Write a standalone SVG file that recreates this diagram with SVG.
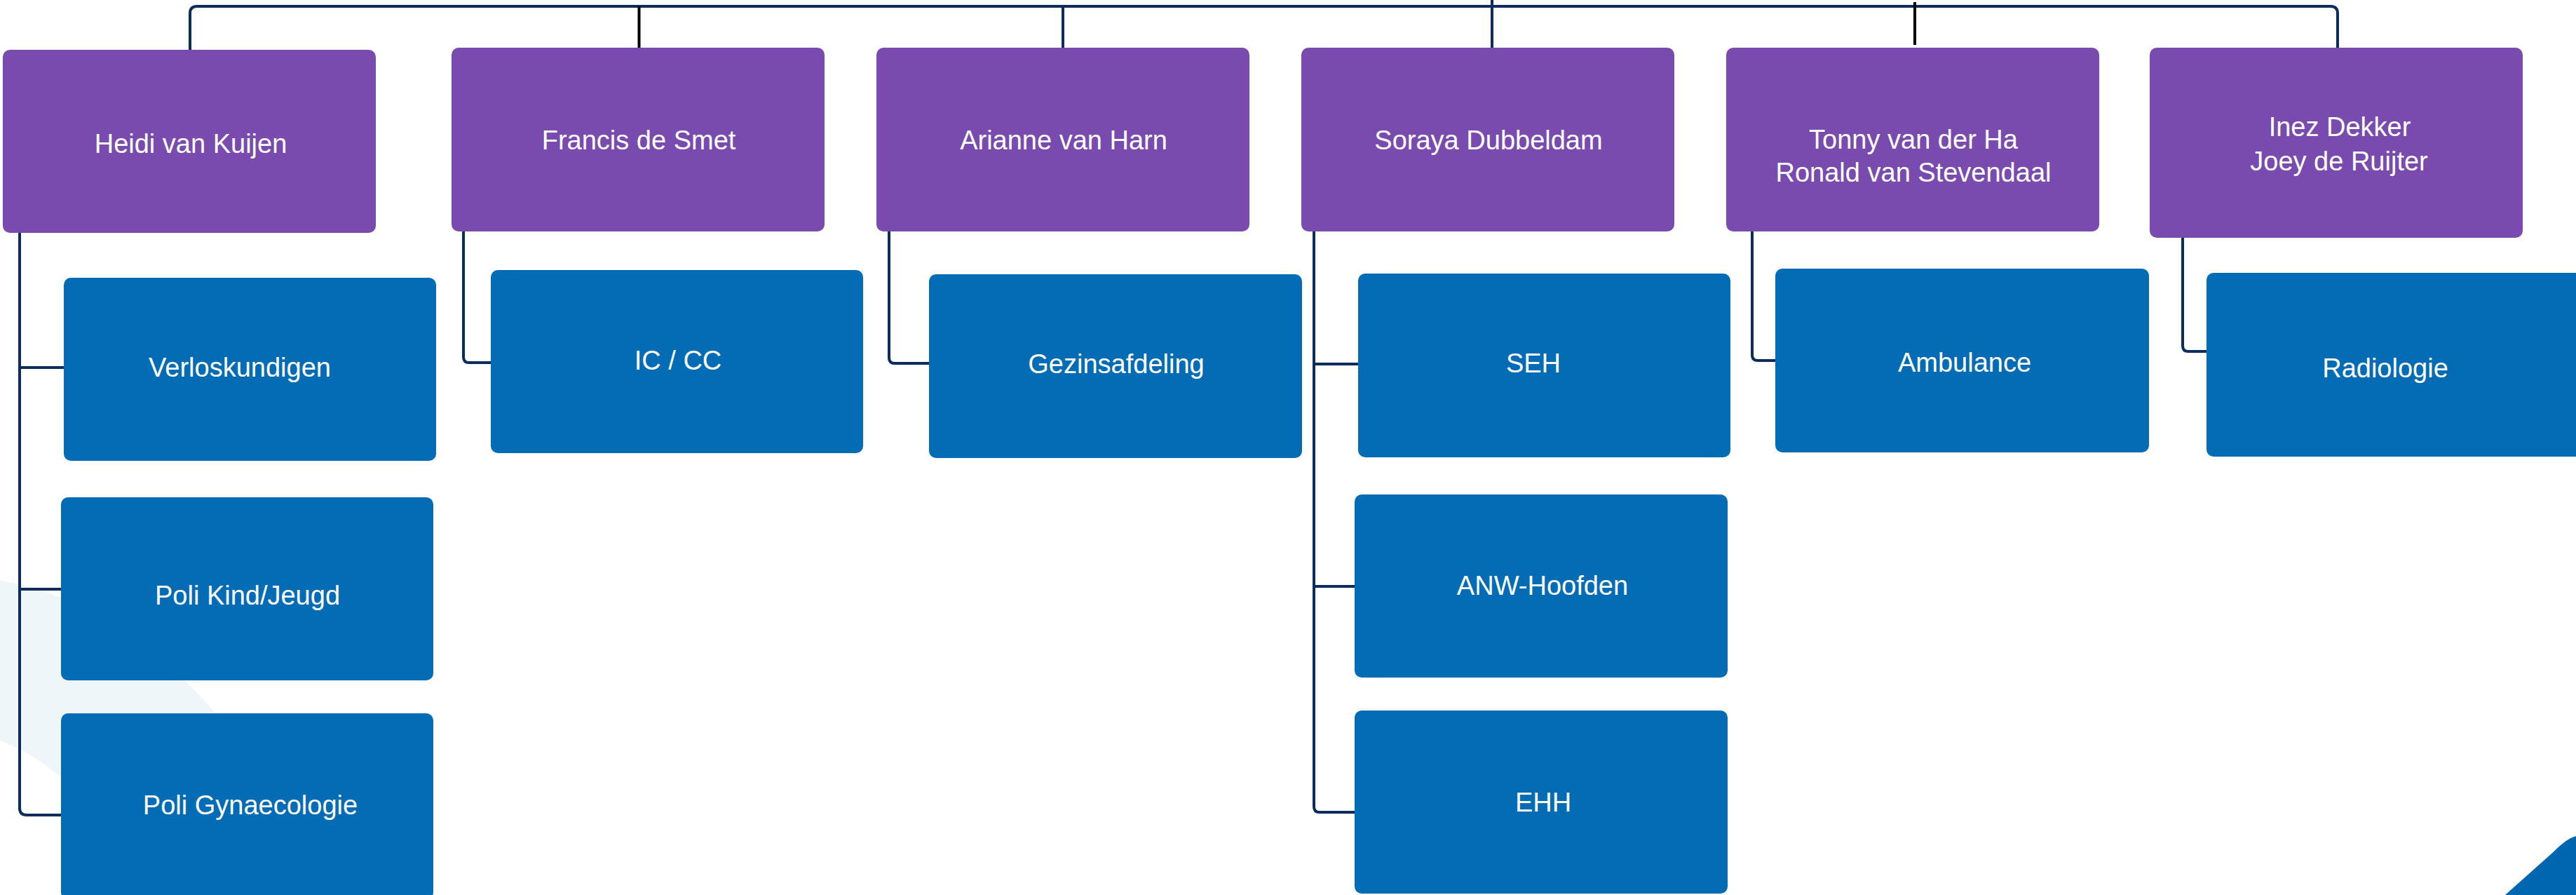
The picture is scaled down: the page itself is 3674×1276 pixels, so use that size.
<svg xmlns="http://www.w3.org/2000/svg" width="3674" height="1276" viewBox="0 0 3674 1276">
  <style>
    .head { fill: #7a4baf; }
    .unit { fill: #036cb5; }
    .lbl { font-family: "Liberation Sans", Arial, sans-serif; font-size: 38px; fill: #ffffff; text-anchor: middle; }
    .link { fill: none; stroke: #0b2d5e; stroke-width: 4; }
    .blk { fill: none; stroke: #000000; stroke-width: 4; }
  </style>
  <rect x="0" y="0" width="3674" height="1276" fill="#ffffff"/>
  <g id="decor">
    <path d="M0,828 C110,845 230,915 330,1045 L420,1180 L400,1276 L220,1276 C150,1160 80,1085 0,1056 Z" fill="#eef6f9"/>
    <path d="M3573,1276 L3638,1218 C3650,1207 3660,1196 3674,1192 L3674,1276 Z" fill="#0066b0"/>
  </g>
  <g id="connectors">
    <path class="link" d="M271,71 L271,19 Q271,9 281,9 L3324,9 Q3334,9 3334,19 L3334,68"/>
    <line class="blk" x1="911.5" y1="9" x2="911.5" y2="70"/>
    <line class="link" x1="1516" y1="9" x2="1516" y2="68"/>
    <line class="link" x1="2128" y1="0" x2="2128" y2="68"/>
    <line class="blk" x1="2731" y1="3" x2="2731" y2="64"/>
    <path class="link" d="M28,332 L28,1152 Q28,1162 38,1162 L87,1162"/>
    <line class="link" x1="28" y1="524" x2="91" y2="524"/>
    <line class="link" x1="28" y1="840" x2="87" y2="840"/>
    <path class="link" d="M661,330 L661,509 Q661,517 669,517 L700,517"/>
    <path class="link" d="M1268,330 L1268,510 Q1268,518 1276,518 L1325,518"/>
    <path class="link" d="M1874,324 L1874,1150 Q1874,1158 1882,1158 L1932,1158"/>
    <line class="link" x1="1874" y1="519" x2="1937" y2="519"/>
    <line class="link" x1="1874" y1="836" x2="1932" y2="836"/>
    <path class="link" d="M2499,330 L2499,506 Q2499,514 2507,514 L2532,514"/>
    <path class="link" d="M3113,339 L3113,493 Q3113,501 3121,501 L3147,501"/>
  </g>
  <g id="heidi"><rect class="head" x="4" y="71" width="532" height="261" rx="10"/><text class="lbl" x="272" y="218">Heidi van Kuijen</text></g>
  <g id="francis"><rect class="head" x="644" y="68" width="532" height="262" rx="10"/><text class="lbl" x="911" y="213">Francis de Smet</text></g>
  <g id="arianne"><rect class="head" x="1250" y="68" width="532" height="262" rx="10"/><text class="lbl" x="1517" y="213">Arianne van Harn</text></g>
  <g id="soraya"><rect class="head" x="1856" y="68" width="532" height="262" rx="10"/><text class="lbl" x="2123" y="213">Soraya Dubbeldam</text></g>
  <g id="tonny"><rect class="head" x="2462" y="68" width="532" height="262" rx="10"/><text class="lbl" x="2729" y="212">Tonny van der Ha</text><text class="lbl" x="2729" y="259">Ronald van Stevendaal</text></g>
  <g id="inez"><rect class="head" x="3066" y="68" width="532" height="271" rx="10"/><text class="lbl" x="3337" y="194">Inez Dekker</text><text class="lbl" x="3336" y="243">Joey de Ruijter</text></g>
  <g id="verloskundigen"><rect class="unit" x="91" y="396" width="531" height="261" rx="10"/><text class="lbl" x="342" y="537">Verloskundigen</text></g>
  <g id="polikind"><rect class="unit" x="87" y="709" width="531" height="261" rx="10"/><text class="lbl" x="353" y="862">Poli Kind/Jeugd</text></g>
  <g id="poligyn"><rect class="unit" x="87" y="1017" width="531" height="265" rx="10"/><text class="lbl" x="357" y="1161">Poli Gynaecologie</text></g>
  <g id="iccc"><rect class="unit" x="700" y="385" width="531" height="261" rx="10"/><text class="lbl" x="967" y="527">IC / CC</text></g>
  <g id="gezin"><rect class="unit" x="1325" y="391" width="532" height="262" rx="10"/><text class="lbl" x="1592" y="532">Gezinsafdeling</text></g>
  <g id="seh"><rect class="unit" x="1937" y="390" width="531" height="262" rx="10"/><text class="lbl" x="2187" y="531">SEH</text></g>
  <g id="anw"><rect class="unit" x="1932" y="705" width="532" height="261" rx="10"/><text class="lbl" x="2200" y="848">ANW-Hoofden</text></g>
  <g id="ehh"><rect class="unit" x="1932" y="1013" width="532" height="261" rx="10"/><text class="lbl" x="2201" y="1157">EHH</text></g>
  <g id="ambulance"><rect class="unit" x="2532" y="383" width="533" height="262" rx="10"/><text class="lbl" x="2802" y="530">Ambulance</text></g>
  <g id="radiologie"><rect class="unit" x="3147" y="389" width="540" height="262" rx="10"/><text class="lbl" x="3402" y="538">Radiologie</text></g>
</svg>
